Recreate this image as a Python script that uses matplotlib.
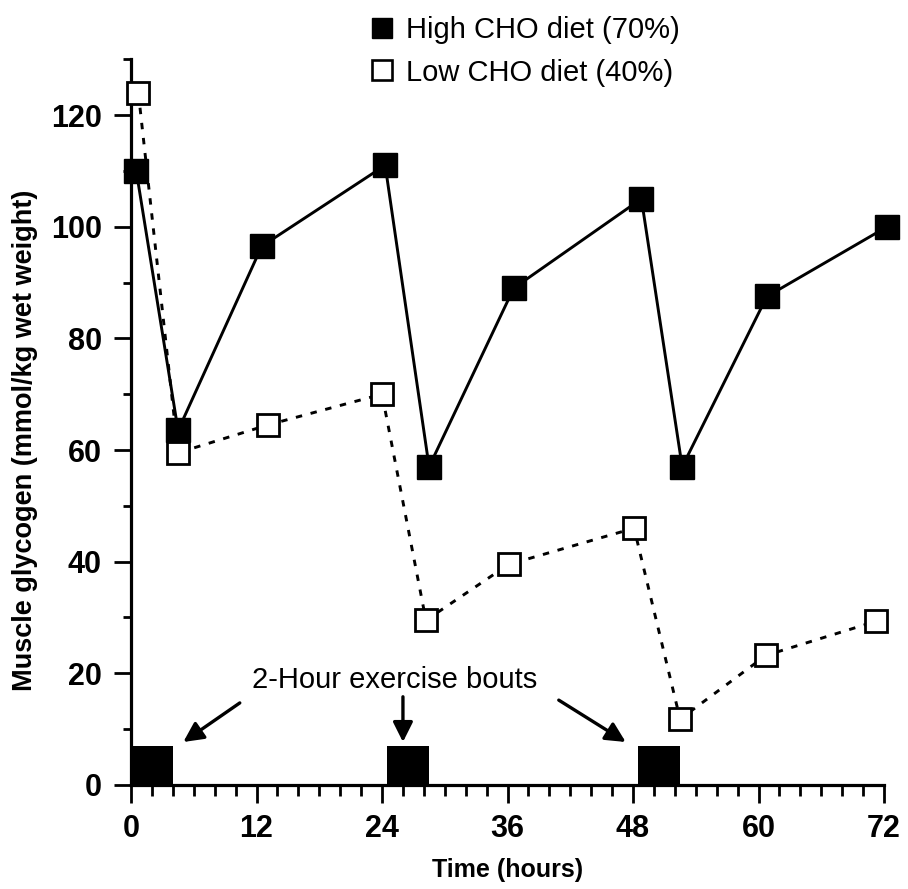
import matplotlib
matplotlib.use("Agg")
import matplotlib.pyplot as plt
from matplotlib.lines import Line2D
from matplotlib.ticker import MultipleLocator

# Muscle glycogen over three days of training
hours_high = [0.5, 4.5, 12.5, 24.3, 28.5, 36.6, 48.8, 52.7, 60.8, 72.3]
glycogen_high = [110, 63.5, 96.5, 111, 57, 89, 105, 57, 87.5, 100]

hours_low = [0.7, 4.5, 13.1, 24.0, 28.2, 36.1, 48.1, 52.5, 60.7, 71.2]
glycogen_low = [124, 59.5, 64.5, 70, 29.5, 39.5, 46, 11.8, 23.2, 29.3]

# 2-hour exercise bouts (start hour, duration)
bout_start = [0, 24.5, 48.5]
bout_length = [4, 4, 4]
bout_height = 7

x_ticks = [0, 12, 24, 36, 48, 60, 72]
y_ticks = [0, 20, 40, 60, 80, 100, 120]

plt.rcParams["font.family"] = ["Liberation Sans", "DejaVu Sans"]
plt.rcParams["font.weight"] = "bold"
plt.rcParams["axes.labelweight"] = "bold"

fig = plt.figure(figsize=(9.08, 8.89), dpi=100)
ax = fig.add_axes([0.1443, 0.117, 0.8293, 0.8164])

ax.bar(bout_start, [bout_height] * 3, width=bout_length, align="edge",
       color="black", zorder=3)

ax.plot(hours_high, glycogen_high, color="black", lw=2.1, marker="s",
        markersize=17.5, markerfacecolor="black", markeredgecolor="black",
        clip_on=False, zorder=5)
ax.plot(hours_low, glycogen_low, color="black", lw=2.1,
        linestyle=(0, (2.2, 3.0)), marker="s", markersize=16,
        markerfacecolor="white", markeredgecolor="black", markeredgewidth=2.0,
        clip_on=False, zorder=4)

ax.set_xlim(0, 72)
ax.set_ylim(0, 130)
ax.set_xticks(x_ticks)
ax.set_yticks(y_ticks)
ax.xaxis.set_minor_locator(MultipleLocator(2))
ax.yaxis.set_minor_locator(MultipleLocator(10))

for side in ["top", "right"]:
    ax.spines[side].set_visible(False)
for side in ["left", "bottom"]:
    ax.spines[side].set_linewidth(2.3)

ax.tick_params(which="major", length=12, width=2.0, labelsize=22, pad=9)
ax.tick_params(which="minor", length=6, width=2.0)
ax.tick_params(axis="x", which="minor", length=8)
ax.tick_params(axis="x", which="major", length=13, pad=8)

ax.set_xlabel("Time (hours)", fontsize=18, labelpad=10)
ax.set_ylabel("Muscle glycogen (mmol/kg wet weight)", fontsize=19.5)
ax.yaxis.set_label_coords(-0.124, 0.475)

# exercise bout annotation
ax.text(25.2, 18.8, "2-Hour exercise bouts", fontsize=21, ha="center",
        va="center", fontweight="normal")
arrow = dict(arrowstyle="-|>", lw=2.4, color="black", mutation_scale=30,
             shrinkA=0, shrinkB=0)
ax.annotate("", xy=(5.0, 7.7), xytext=(10.4, 14.7), arrowprops=arrow)
ax.annotate("", xy=(26.0, 7.7), xytext=(26.0, 15.8), arrowprops=arrow)
ax.annotate("", xy=(47.3, 7.7), xytext=(40.9, 15.2), arrowprops=arrow)

handles = [
    Line2D([], [], color="black", marker="s", linestyle="none",
           markersize=15, markerfacecolor="black"),
    Line2D([], [], color="black", marker="s", linestyle="none",
           markersize=15, markerfacecolor="white", markeredgewidth=1.9),
]
fig.legend(handles, ["High CHO diet (70%)", "Low CHO diet (40%)"],
           loc="upper left", bbox_to_anchor=(0.385, 1.005), frameon=False,
           handlelength=0.8, handletextpad=0.45, labelspacing=0.5,
           borderaxespad=0.3, prop={"weight": "normal", "size": 21})

fig.savefig("out.png", dpi=100)
